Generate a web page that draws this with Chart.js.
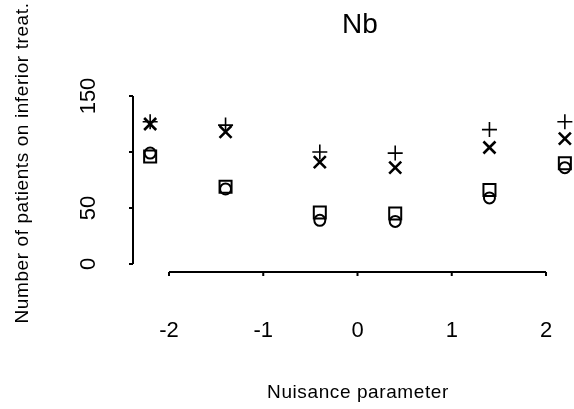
<!DOCTYPE html>
<html>
<head>
<meta charset="utf-8">
<script src="https://cdn.jsdelivr.net/npm/chart.js@4/dist/chart.umd.min.js"></script>
<style>
  html, body { margin: 0; padding: 0; background: #fff; }
  #wrap { width: 574px; height: 409px; position: relative; }
</style>
</head>
<body>
<div id="wrap"><canvas id="nbChart"></canvas></div>
<script>
// Nuisance parameter values (x positions)
const nuisance = [-2.2, -1.4, -0.4, 0.4, 1.4, 2.2];

// Number of patients on inferior treatment, one array per design
const plusVals   = [127, 124, 100, 99, 120, 127];
const crossVals  = [125, 118, 91, 86, 104, 112];
const squareVals = [96, 69, 46, 45, 66, 90];
const circleVals = [99, 67, 39, 38, 59, 86];

// axis ticks
const xTicks = [-2, -1, 0, 1, 2];
const yTicks = [0, 50, 100, 150];

const FONT = '"Liberation Sans", Arial, Helvetica, sans-serif';

function toPoints(vals) {
    return nuisance.map((x, i) => ({ x: x, y: vals[i] }));
}

function series(vals, style, radius, width) {
    return {
        data: toPoints(vals),
        pointStyle: style,
        pointRadius: radius,
        pointHoverRadius: radius,
        pointBorderWidth: width,
        borderColor: '#000',
        pointBorderColor: '#000',
        pointBackgroundColor: 'rgba(0,0,0,0)',
        showLine: false
    };
}

// R-style detached axes and labels, drawn from the chart's own scales
const rAxes = {
    id: 'rAxes',
    afterDraw(chart) {
        const ctx = chart.ctx;
        const xs = chart.scales.x;
        const ys = chart.scales.y;
        ctx.save();
        ctx.strokeStyle = '#000';
        ctx.fillStyle = '#000';
        ctx.lineWidth = 2;

        // y axis
        const axX = chart.chartArea.left;
        ctx.beginPath();
        ctx.moveTo(axX, ys.getPixelForValue(yTicks[0]));
        ctx.lineTo(axX, ys.getPixelForValue(yTicks[yTicks.length - 1]));
        yTicks.forEach(v => {
            const py = ys.getPixelForValue(v);
            ctx.moveTo(axX, py);
            ctx.lineTo(axX - 4, py);
        });
        ctx.stroke();

        ctx.font = '22px ' + FONT;
        ctx.textAlign = 'center';
        ctx.textBaseline = 'alphabetic';
        yTicks.forEach(v => {
            if (v === 100) return; // label left out in the original
            ctx.save();
            ctx.translate(95, ys.getPixelForValue(v));
            ctx.rotate(-Math.PI / 2);
            ctx.fillText(String(v), 0, 0);
            ctx.restore();
        });

        // x axis
        const axY = chart.chartArea.bottom;
        ctx.beginPath();
        ctx.moveTo(xs.getPixelForValue(xTicks[0]), axY);
        ctx.lineTo(xs.getPixelForValue(xTicks[xTicks.length - 1]), axY);
        xTicks.forEach(v => {
            const px = xs.getPixelForValue(v);
            ctx.moveTo(px, axY);
            ctx.lineTo(px, axY + 4);
        });
        ctx.stroke();
        xTicks.forEach(v => {
            ctx.fillText(String(v), xs.getPixelForValue(v), 337);
        });

        // titles
        ctx.font = '28px ' + FONT;
        ctx.fillText('Nb', 360, 33);

        ctx.font = '19px ' + FONT;
        ctx.letterSpacing = '0.6px';
        ctx.fillText('Nuisance parameter', 358, 398);
        ctx.save();
        ctx.translate(28, 163);
        ctx.rotate(-Math.PI / 2);
        ctx.fillText('Number of patients on inferior treat.', 0, 0);
        ctx.restore();
        ctx.restore();
    }
};

new Chart(document.getElementById('nbChart'), {
    type: 'scatter',
    data: {
        datasets: [
            series(plusVals, 'cross', 7.5, 1.6),
            series(crossVals, 'crossRot', 8.5, 2.6),
            series(squareVals, 'rect', 8.5, 2),
            series(circleVals, 'circle', 5.5, 2)
        ]
    },
    options: {
        responsive: true,
        maintainAspectRatio: false,
        animation: false,
        layout: { autoPadding: false, padding: { left: 133, right: 0, top: 89, bottom: 137 } },
        plugins: {
            legend: { display: false },
            tooltip: { enabled: false }
        },
        scales: {
            x: { type: 'linear', display: false, min: -2.382, max: 2.297 },
            y: { type: 'linear', display: false, min: -7.14, max: 156.25 }
        }
    },
    plugins: [rAxes]
});
</script>
</body>
</html>
